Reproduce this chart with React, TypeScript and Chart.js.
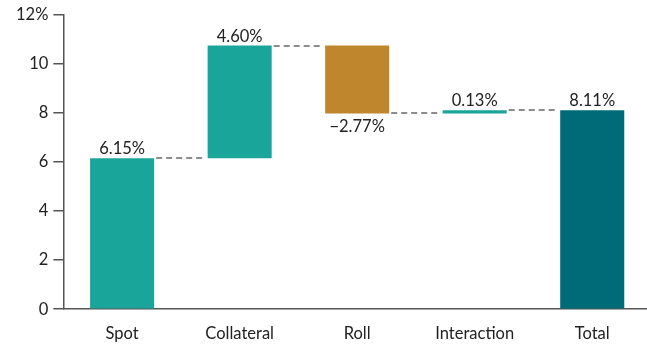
import React, { useEffect, useRef } from "react";
import { Chart, registerables } from "chart.js";

Chart.register(...registerables);

const categories = ["Spot", "Collateral", "Roll", "Interaction", "Total"];
const changes = [6.15, 4.6, -2.77, 0.13, 8.11];
const isTotal = [false, false, false, false, true];
const valueLabels = ["6.15%", "4.60%", "\u22122.77%", "0.13%", "8.11%"];
const yTicks = [0, 2, 4, 6, 8, 10, 12];
const barColors = ["#1aa59b", "#1aa59b", "#c0862e", "#1aa59b", "#006b78"];

const FONT = "Lato, 'Noto Sans', sans-serif";
const FS = 16.5;

export default function App() {
  const ref = useRef<HTMLCanvasElement | null>(null);

  useEffect(() => {
    document.body.style.margin = "0";
    const canvas = ref.current!;
    const ranges: [number, number][] = [];
    let running = 0;
    changes.forEach((c, i) => {
      if (isTotal[i]) {
        ranges.push([0, c]);
        running = c;
      } else {
        ranges.push([running, running + c]);
        running += c;
      }
    });
    const ends = ranges.map((r) => r[1]);

    const overlay = {
      id: "overlay",
      afterDatasetsDraw(chart: any) {
        const ctx = chart.ctx;
        const meta = chart.getDatasetMeta(0);
        const y = chart.scales.y;
        ctx.save();
        ctx.strokeStyle = "#8c8c8c";
        ctx.lineWidth = 2;
        ctx.setLineDash([6, 4]);
        for (let i = 0; i < meta.data.length - 1; i++) {
          const a = meta.data[i] as any;
          const b = meta.data[i + 1] as any;
          const py = Math.round(y.getPixelForValue(ends[i]));
          ctx.beginPath();
          ctx.moveTo(a.x + a.width / 2 + 2, py);
          ctx.lineTo(b.x - b.width / 2 - 2, py);
          ctx.stroke();
        }
        ctx.setLineDash([]);
        ctx.fillStyle = "#222";
        ctx.font = `${FS}px ${FONT}`;
        ctx.textAlign = "center";
        meta.data.forEach((bar: any, i: number) => {
          const r = ranges[i];
          const hi = Math.max(r[0], r[1]);
          const lo = Math.min(r[0], r[1]);
          if (changes[i] < 0) {
            ctx.textBaseline = "top";
            ctx.fillText(valueLabels[i], bar.x, y.getPixelForValue(lo) + 5);
          } else {
            ctx.textBaseline = "bottom";
            ctx.fillText(valueLabels[i], bar.x, y.getPixelForValue(hi) - 1);
          }
        });
        ctx.restore();
      },
    };

    const chart = new Chart(canvas, {
      type: "bar",
      data: {
        labels: categories,
        datasets: [
          {
            data: ranges as any,
            backgroundColor: barColors,
            borderWidth: 0,
            barPercentage: 0.545,
            categoryPercentage: 1,
            borderSkipped: false,
          },
        ],
      },
      options: {
        animation: false,
        responsive: false,
        maintainAspectRatio: false,
        layout: { padding: { top: 7, right: 0, bottom: -15, left: 11 } },
        plugins: { legend: { display: false }, tooltip: { enabled: false } },
        scales: {
          x: {
            grid: { display: false, drawTicks: false },
            border: { display: true, color: "#555", width: 1.5 },
            ticks: {
              color: "#222",
              font: { family: FONT, size: FS },
              padding: 15,
            },
          },
          y: {
            min: 0,
            max: 12,
            afterBuildTicks: (axis: any) => {
              axis.ticks = yTicks.map((v) => ({ value: v }));
            },
            grid: {
              drawOnChartArea: false,
              drawTicks: true,
              tickLength: 10,
              color: "#555",
              lineWidth: 1.5,
            },
            border: { display: true, color: "#555", width: 1.5 },
            ticks: {
              color: "#222",
              font: { family: FONT, size: FS },
              padding: 5,
              callback: (v: any) => (v === 12 ? "12%" : String(v)),
            },
          },
        },
      },
      plugins: [overlay],
    });
    return () => chart.destroy();
  }, []);

  return (
    <div style={{ width: 647, height: 344, overflow: "hidden" }}>
      <canvas ref={ref} width={651} height={344} style={{ display: "block" }} />
    </div>
  );
}
